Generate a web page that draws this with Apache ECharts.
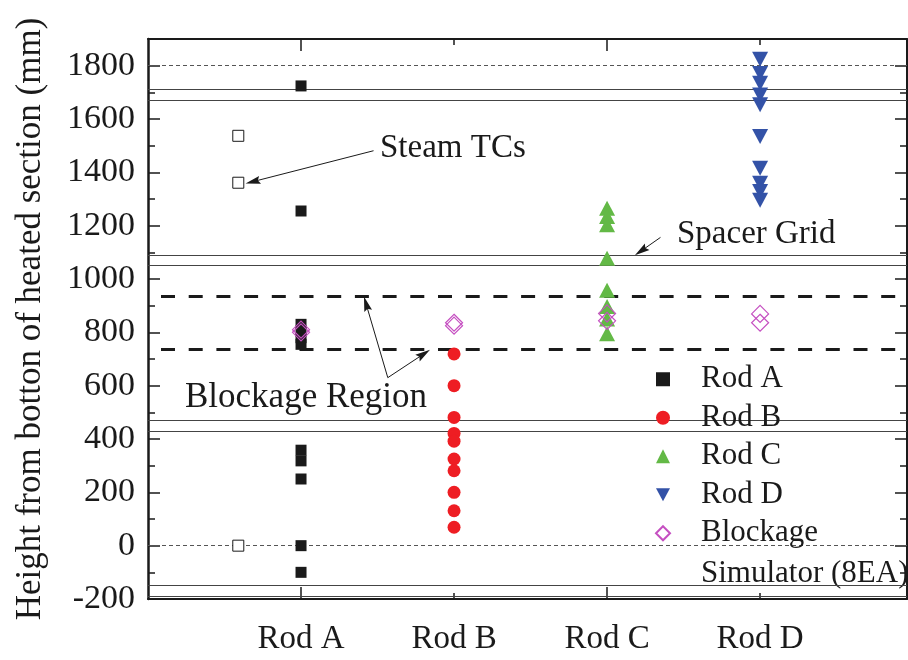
<!DOCTYPE html>
<html>
<head>
<meta charset="utf-8">
<script src="https://cdn.jsdelivr.net/npm/echarts@6/dist/echarts.min.js"></script>
<style>
html,body{margin:0;padding:0;background:#fff;}
#chart{width:908px;height:660px;}
</style>
</head>
<body>
<div id="chart"></div>
<script>
// ---- data ----
const categories = ['Rod A', 'Rod B', 'Rod C', 'Rod D'];
const catPos = [1, 2, 3, 4];
const steamX = 0.59;
const steamTCs = [1537, 1361, 0];
const rodA = [1724, 1255, 830, 805, 780, 755, 358, 318, 250, 0, -100];
const rodB = [719, 600, 481, 421, 392, 325, 281, 200, 131, 69];
const rodC = [1265, 1234, 1203, 1078, 958, 897, 850, 795];
const rodD = [1824, 1771, 1734, 1690, 1653, 1534, 1415, 1359, 1328, 1295];
const blockA = [810, 800];
const blockB = [836, 825];
const blockC = [871, 843];
const blockD = [869, 836];
const yMajorTicks = [-200, 0, 200, 400, 600, 800, 1000, 1200, 1400, 1600, 1800];
const yMinorTicks = [-100, 100, 300, 500, 700, 900, 1100, 1300, 1500, 1700];
const dottedLines = [1800, 0];
const solidLines = [1710, 1670, 1090, 1050, 470, 430, -150, -190];
const blockageLines = [935, 735];
// annotation arrows: [start, end] in data units
const steamArrow = [[1.474, 1481], [0.685, 1365]];
const spacerArrow = [[3.349, 1156], [3.222, 1105]];
const blockArrow1 = [[1.567, 630], [1.425, 907]];
const blockArrow2 = [[1.567, 630], [1.802, 719]];

const SERIF = '"Liberation Serif", "DejaVu Serif", serif';
const INK = '#1a1a1a';

const chart = echarts.init(document.getElementById('chart'), null, {renderer: 'canvas'});

const gridRect = {left: 148, right: 1, top: 39, bottom: 61};
const X_MAX = 4.96, Y_MIN = -200, Y_MAX = 1900;

function xAxisDef(grid, pos, tickVals, len, showLine, showLabel) {
  return {
    type: 'value', gridIndex: grid, position: pos, min: 0, max: X_MAX,
    splitLine: {show: false},
    axisLine: {show: showLine, onZero: false, lineStyle: {color: INK, width: 2}},
    axisTick: {show: true, inside: true, length: len, customValues: tickVals, lineStyle: {color: INK, width: 1.5}},
    axisLabel: showLabel ? {
      show: true, customValues: catPos, margin: 24,
      formatter: v => categories[catPos.indexOf(Math.round(v))] || '',
      fontFamily: SERIF, fontSize: 33, color: INK
    } : {show: false}
  };
}
function yAxisDef(grid, pos, tickVals, len, showLine, showLabel, withName) {
  const a = {
    type: 'value', gridIndex: grid, position: pos, min: Y_MIN, max: Y_MAX,
    splitLine: {show: false},
    axisLine: {show: showLine, onZero: false, lineStyle: {color: INK, width: pos === 'left' ? 2.5 : 2}},
    axisTick: {show: true, inside: true, length: len, customValues: tickVals, lineStyle: {color: INK, width: 1.5}},
    axisLabel: showLabel ? {
      show: true, customValues: yMajorTicks, margin: 13,
      formatter: v => String(v),
      fontFamily: SERIF, fontSize: 34, color: INK
    } : {show: false}
  };
  if (withName) {
    a.name = 'Height from botton of heated section (mm)';
    a.nameLocation = 'middle';
    a.nameRotate = 90;
    a.nameGap = 100;
    a.nameTextStyle = {fontFamily: SERIF, fontSize: 35, color: INK};
  }
  return a;
}

const hLines = [];
dottedLines.forEach(v => hLines.push({yAxis: v, lineStyle: {color: '#555', width: 1, type: [4, 3]}}));
solidLines.forEach(v => hLines.push({yAxis: v, lineStyle: {color: '#444', width: 1.2, type: 'solid'}}));
blockageLines.forEach(v => hLines.push({yAxis: v, lineStyle: {color: INK, width: 3, type: [14, 13.7], dashOffset: 14.7}}));
const ARROW = 'path://M5,0L10,16L5,13.5L0,16Z';
function arrowItem(a) {
  return [
    {coord: a[0], symbol: 'none', lineStyle: {color: INK, width: 1, type: 'solid'}},
    {coord: a[1], symbol: ARROW, symbolSize: [8, 15]}
  ];
}
[steamArrow, spacerArrow, blockArrow1, blockArrow2].forEach(a => hLines.push(arrowItem(a)));

const diamondStyle = {color: 'rgba(0,0,0,0)', borderColor: '#c54fc1', borderWidth: 1.2, opacity: 1};

const option = {
  animation: false,
  backgroundColor: '#fff',
  grid: [Object.assign({}, gridRect), Object.assign({}, gridRect)],
  xAxis: [
    xAxisDef(0, 'bottom', [1, 3], 12, true, true),
    xAxisDef(0, 'top', [1, 3], 12, true, false),
    xAxisDef(1, 'bottom', [2, 4], 6, false, false),
    xAxisDef(1, 'top', [2, 4], 6, false, false)
  ],
  yAxis: [
    yAxisDef(0, 'left', yMajorTicks, 12, true, true, true),
    yAxisDef(0, 'right', yMajorTicks, 12, true, false, false),
    yAxisDef(1, 'left', yMinorTicks, 7, false, false, false),
    yAxisDef(1, 'right', yMinorTicks, 7, false, false, false)
  ],
  legend: {
    orient: 'vertical', left: 650, top: 355, itemGap: 0,
    itemWidth: 14, itemHeight: 14, selectedMode: false,
    data: ['Rod A', 'Rod B', 'Rod C', 'Rod D', 'Blockage'],
    textStyle: {fontFamily: SERIF, fontSize: 31, color: INK, lineHeight: 38.5, padding: [0, 0, 0, 26]}
  },
  graphic: [
    {type: 'text', left: 701, top: 574 - 19, silent: true,
     style: {text: 'Simulator (8EA)', font: '31px ' + SERIF, fill: INK, lineHeight: 38}},
    {type: 'text', left: 380, top: 148 - 19, silent: true,
     style: {text: 'Steam TCs', font: '33px ' + SERIF, fill: INK, lineHeight: 38}},
    {type: 'text', left: 677, top: 234 - 19, silent: true,
     style: {text: 'Spacer Grid', font: '33px ' + SERIF, fill: INK, lineHeight: 38}},
    {type: 'text', left: 185, top: 398 - 19, silent: true,
     style: {text: 'Blockage Region', font: '35px ' + SERIF, fill: INK, lineHeight: 38}}
  ],
  series: [
    {
      name: 'Steam TCs', type: 'scatter', xAxisIndex: 0, yAxisIndex: 0, z: 3,
      symbol: 'rect', symbolSize: 11,
      itemStyle: {color: '#fff', borderColor: INK, borderWidth: 1, opacity: 1},
      data: steamTCs.map(v => [steamX, v]),
      markLine: {silent: true, symbol: ['none', 'none'], label: {show: false}, z: 1,
                 emphasis: {disabled: true}, data: hLines}
    },
    {name: 'Rod A', type: 'scatter', z: 4, symbol: 'rect', symbolSize: 11,
     itemStyle: {color: INK, opacity: 1}, data: rodA.map(v => [catPos[0], v])},
    {name: 'Rod B', type: 'scatter', z: 4, symbol: 'circle', symbolSize: 13,
     itemStyle: {color: '#ee1d23', opacity: 1}, data: rodB.map(v => [catPos[1], v])},
    {name: 'Rod C', type: 'scatter', z: 4, symbol: 'triangle', symbolSize: [16, 15],
     itemStyle: {color: '#63b946', opacity: 1}, data: rodC.map(v => [catPos[2], v])},
    {name: 'Rod D', type: 'scatter', z: 4, symbol: 'path://M0,0L10,0L5,9.3Z', symbolSize: [16, 15],
     itemStyle: {color: '#3352a7', opacity: 1}, data: rodD.map(v => [catPos[3], v])},
    {name: 'Blockage', type: 'scatter', z: 5, symbol: 'diamond', symbolSize: [17, 17],
     itemStyle: diamondStyle,
     data: [].concat(
       blockA.map(v => [catPos[0], v]), blockB.map(v => [catPos[1], v]),
       blockC.map(v => [catPos[2], v]), blockD.map(v => [catPos[3], v]))}
  ]
};
chart.setOption(option);
</script>
</body>
</html>
